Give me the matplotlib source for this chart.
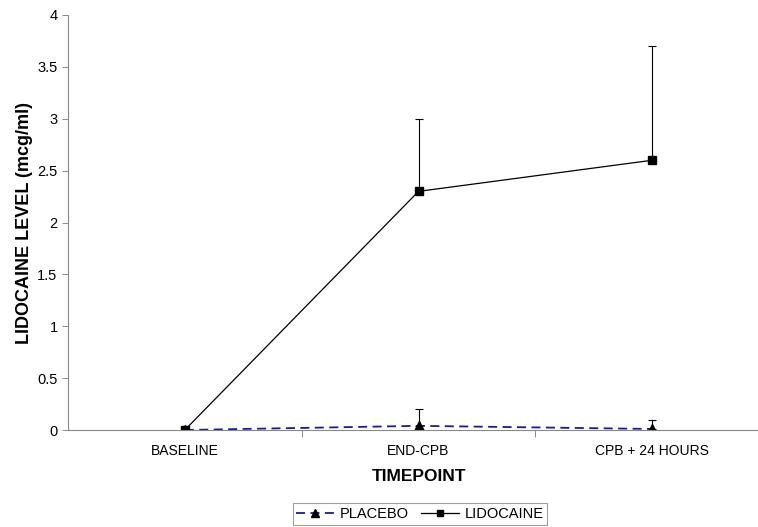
import matplotlib.pyplot as plt
from matplotlib.lines import Line2D
import numpy as np

plt.rcParams['font.family'] = ['Liberation Sans', 'DejaVu Sans']

timepoints = ['BASELINE', 'END-CPB', 'CPB + 24 HOURS']
placebo = [0.0, 0.04, 0.01]
placebo_err = [0.0, 0.16, 0.09]
lidocaine = [0.0, 2.3, 2.6]
lidocaine_err = [0.0, 0.7, 1.1]

x = np.arange(len(timepoints))

fig = plt.figure(figsize=(7.58, 5.27), dpi=100)
ax = fig.add_axes([68 / 758, 97 / 527, 701 / 758, 415 / 527])

placebo_style = dict(color='#1a1a9a', ls=(0, (5, 3)), lw=1.3, marker='^',
                     mfc='black', mec='black')
lido_style = dict(color='black', lw=0.9, marker='s', mfc='black', mec='black')

# upper-only error bars, Excel style
ax.errorbar(x, placebo, yerr=[np.zeros(3), placebo_err], ms=7,
            ecolor='black', elinewidth=0.8, capsize=3, capthick=0.8, **placebo_style)
ax.errorbar(x, lidocaine, yerr=[np.zeros(3), lidocaine_err], ms=5.5,
            ecolor='black', elinewidth=0.8, capsize=3, capthick=0.8, **lido_style)

ax.set_xlim(-0.5, 2.5)
ax.set_ylim(0, 4)
ax.set_yticks([0, 0.5, 1, 1.5, 2, 2.5, 3, 3.5, 4])
ax.set_yticklabels(['0', '0.5', '1', '1.5', '2', '2.5', '3', '3.5', '4'])
ax.set_xticks(x)
ax.set_xticklabels(timepoints)
ax.set_xticks([0.5, 1.5], minor=True)
ax.tick_params(axis='x', which='major', length=0, pad=10, labelsize=10)
ax.tick_params(axis='x', which='minor', length=5, width=0.6, color='#777777')
ax.tick_params(axis='y', length=4, width=0.6, color='#777777', labelsize=10.5)

for s in ['top', 'right']:
    ax.spines[s].set_visible(False)
for s in ['left', 'bottom']:
    ax.spines[s].set_color('#888888')
    ax.spines[s].set_linewidth(0.8)

ax.set_xlabel('TIMEPOINT', fontsize=12.5, fontweight='bold', labelpad=8)
ax.set_ylabel('LIDOCAINE LEVEL (mcg/ml)', fontsize=13, fontweight='bold', labelpad=3)

handles = [Line2D([], [], ms=6, **placebo_style), Line2D([], [], ms=4.5, **lido_style)]
leg = fig.legend(handles, ['PLACEBO', 'LIDOCAINE'], loc='center',
                 bbox_to_anchor=(420 / 758, 1 - 514 / 527), ncol=2,
                 frameon=True, fancybox=False, fontsize=10.5, handlelength=2.6,
                 columnspacing=0.8, handletextpad=0.4, borderpad=0.25)
leg.get_frame().set_edgecolor('#888888')
leg.get_frame().set_linewidth(0.8)

fig.savefig('out.png', dpi=100)
